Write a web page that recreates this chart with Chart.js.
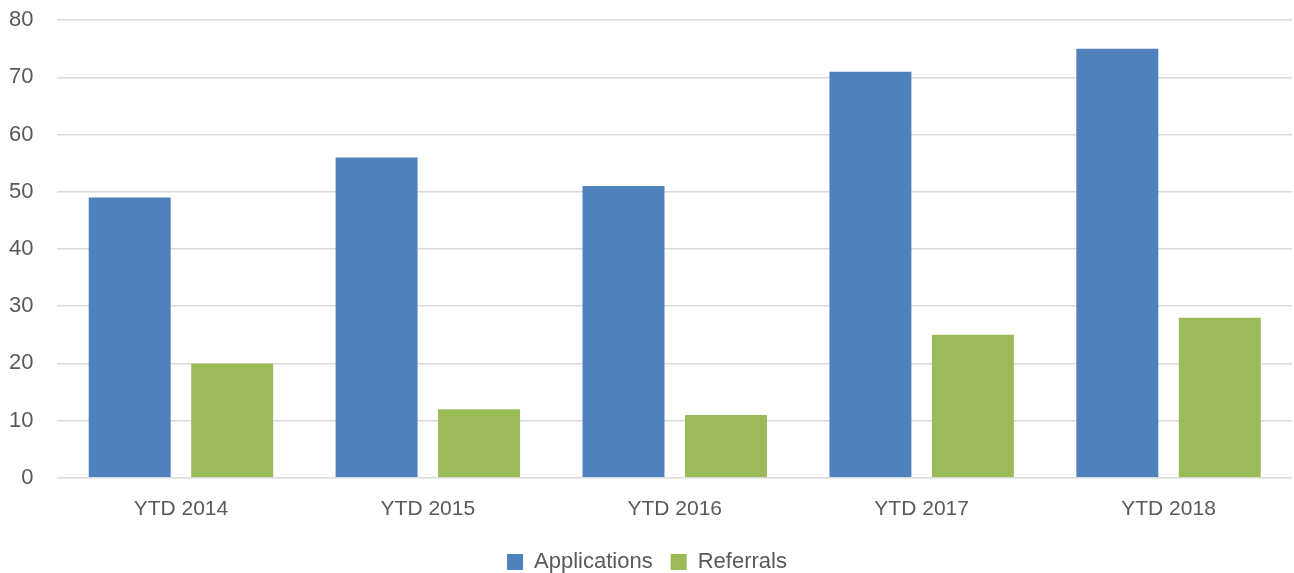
<!DOCTYPE html>
<html>
<head>
<meta charset="utf-8">
<script src="https://cdn.jsdelivr.net/npm/chart.js@4.4.0/dist/chart.umd.min.js"></script>
<style>
  html, body { margin: 0; padding: 0; background: #fff; }
  .wrap { width: 1294px; height: 573px; }
</style>
</head>
<body>
<div class="wrap"><canvas id="chart"></canvas></div>
<script>
let categories = ['YTD 2014', 'YTD 2015', 'YTD 2016', 'YTD 2017', 'YTD 2018'];
let applications = [49, 56, 51, 71, 75];
let referrals = [20, 12, 11, 25, 28];
let seriesNames = ['Applications', 'Referrals'];

let fontFamily = '"Liberation Sans", Arial, sans-serif';
let graph = document.querySelector('#chart').getContext('2d');

var chart = new Chart(graph, {
    type: 'bar',
    data: {
        labels: categories,
        datasets: [
            {
                label: seriesNames[0],
                data: applications,
                backgroundColor: '#4F81BD',
                categoryPercentage: 0.83,
                barPercentage: 0.8
            },
            {
                label: seriesNames[1],
                data: referrals,
                backgroundColor: '#9BBB59',
                categoryPercentage: 0.83,
                barPercentage: 0.8
            }
        ]
    },
    options: {
        responsive: true,
        maintainAspectRatio: false,
        animation: false,
        layout: {
            // negative bottom pulls the legend down to where the original has it
            padding: { top: 0, left: 2, right: 2, bottom: -10 }
        },
        scales: {
            x: {
                grid: { display: false },
                border: { display: false },
                ticks: {
                    color: '#595959',
                    font: { family: fontFamily, size: 21 },
                    padding: 11
                }
            },
            y: {
                min: 0,
                max: 80,
                ticks: {
                    stepSize: 10,
                    color: '#595959',
                    font: { family: fontFamily, size: 22 },
                    padding: 7
                },
                grid: {
                    color: '#d9d9d9',
                    lineWidth: 1.5,
                    drawTicks: true,
                    tickLength: 17,
                    tickColor: 'rgba(0,0,0,0)'   // invisible ticks, just for the gap
                },
                border: { display: false }
            }
        },
        plugins: {
            legend: {
                display: true,
                position: 'bottom',
                labels: {
                    color: '#595959',
                    font: { family: fontFamily, size: 22 },
                    boxWidth: 16,
                    boxHeight: 16,
                    padding: 18
                }
            },
            tooltip: { enabled: false }
        }
    }
});
</script>
</body>
</html>
